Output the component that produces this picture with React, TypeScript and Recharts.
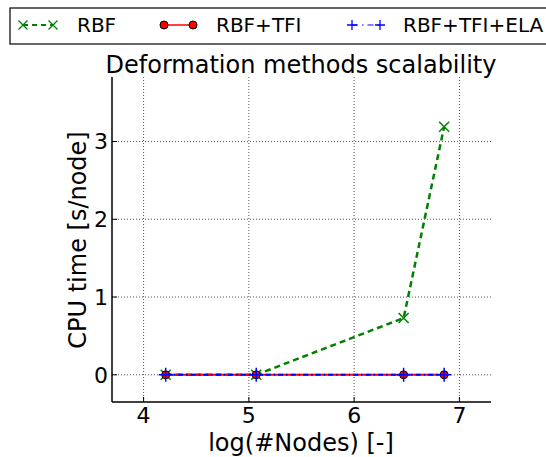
import React from 'react'
import { LineChart, Line, XAxis, YAxis, CartesianGrid } from 'recharts'

const logNodes = [4.21, 5.07, 6.47, 6.855]
const rbfTime = [0, 0, 0.73, 3.19]
const rbfTfiTime = [0, 0, 0, 0]
const rbfTfiElaTime = [0, 0, 0, 0]
const xTicks = [4, 5, 6, 7]
const yTicks = [0, 1, 2, 3]
const seriesNames = ['RBF', 'RBF+TFI', 'RBF+TFI+ELA']

const GREEN = '#008000'
const RED = '#ff0000'
const BLUE = '#0000ff'
const FONT = '"DejaVu Sans", sans-serif'

const data = logNodes.map((x, i) => ({
  x,
  rbf: rbfTime[i],
  rbfTfi: rbfTfiTime[i],
  rbfTfiEla: rbfTfiElaTime[i]
}))

const crossPath = (cx: number, cy: number, s: number) =>
  `M${cx - s},${cy - s}L${cx + s},${cy + s}M${cx - s},${cy + s}L${cx + s},${cy - s}`
const plusPath = (cx: number, cy: number, s: number) =>
  `M${cx - s},${cy}L${cx + s},${cy}M${cx},${cy - s}L${cx},${cy + s}`

const XMarker = ({ cx, cy }: any) => (
  <path d={crossPath(cx, cy, 5)} stroke={GREEN} strokeWidth={1.5} fill="none" />
)
const CircleMarker = ({ cx, cy }: any) => (
  <circle cx={cx} cy={cy} r={4} fill={RED} stroke="#000" strokeWidth={1} />
)
const PlusMarker = ({ cx, cy }: any) => (
  <path d={plusPath(cx, cy, 7)} stroke={BLUE} strokeWidth={1.5} fill="none" />
)

const tickStyle = { fill: '#000', fontSize: 22, fontFamily: FONT }

function Overlay() {
  return (
    <svg
      width={546}
      height={457}
      style={{ position: 'absolute', left: 0, top: 0, pointerEvents: 'none' }}
    >
      {/* legend box, runs past the right edge like the original */}
      <rect x={10} y={8} width={560} height={36} fill="#fff" stroke="#000" strokeWidth={1.2} />
      <g fontFamily={FONT} fontSize={20} fill="#000">
        <line x1={23} y1={25} x2={53} y2={25} stroke={GREEN} strokeWidth={2} strokeDasharray="5 4" />
        <path d={crossPath(23, 25, 4.5)} stroke={GREEN} strokeWidth={1.3} fill="none" />
        <path d={crossPath(53, 25, 4.5)} stroke={GREEN} strokeWidth={1.3} fill="none" />
        <text x={77} y={32}>{seriesNames[0]}</text>

        <line x1={164} y1={25} x2={193} y2={25} stroke={RED} strokeWidth={1.5} />
        <circle cx={164} cy={25} r={4} fill={RED} stroke="#000" strokeWidth={1} />
        <circle cx={193} cy={25} r={4} fill={RED} stroke="#000" strokeWidth={1} />
        <text x={216} y={32}>{seriesNames[1]}</text>

        <line x1={352} y1={25} x2={380} y2={25} stroke={BLUE} strokeWidth={1} strokeDasharray="6 4 1.5 4" />
        <path d={plusPath(352, 25, 5)} stroke={BLUE} strokeWidth={1.3} fill="none" />
        <path d={plusPath(380, 25, 5)} stroke={BLUE} strokeWidth={1.3} fill="none" />
        <text x={403} y={32}>{seriesNames[2]}</text>
      </g>

      <text x={301} y={73} textAnchor="middle" fontFamily={FONT} fontSize={24} fill="#000">
        Deformation methods scalability
      </text>
      <text x={301} y={451} textAnchor="middle" fontFamily={FONT} fontSize={24} fill="#000">
        log(#Nodes) [-]
      </text>
      <text
        x={0}
        y={0}
        transform="translate(86,240) rotate(-90)"
        textAnchor="middle"
        fontFamily={FONT}
        fontSize={24}
        fill="#000"
      >
        CPU time [s/node]
      </text>
    </svg>
  )
}

export default function App() {
  return (
    <div
      style={{
        position: 'absolute',
        left: 0,
        top: 0,
        width: 546,
        height: 457,
        overflow: 'hidden',
        background: '#fff'
      }}
    >
      <LineChart
        width={546}
        height={457}
        data={data}
        margin={{ top: 77, right: 55, bottom: 5, left: 0 }}
      >
        <CartesianGrid
          stroke="#555"
          strokeWidth={1}
          strokeDasharray="1 2"
          horizontalValues={yTicks}
          verticalValues={xTicks}
        />
        <XAxis
          type="number"
          dataKey="x"
          domain={[3.7, 7.3]}
          ticks={xTicks}
          allowDataOverflow
          height={50}
          tickSize={-5}
          tickMargin={10}
          tick={tickStyle}
          stroke="#000"
          axisLine={{ stroke: '#000', strokeWidth: 1.5 }}
          tickLine={{ stroke: '#000' }}
        />
        <XAxis
          xAxisId="top"
          orientation="top"
          type="number"
          dataKey="x"
          domain={[3.7, 7.3]}
          ticks={xTicks}
          allowDataOverflow
          height={0}
          tickSize={-5}
          tickFormatter={() => ''}
          axisLine={{ stroke: '#000', strokeWidth: 1.5 }}
          tickLine={{ stroke: '#000' }}
        />
        <YAxis
          type="number"
          domain={[-0.35, 3.83]}
          ticks={yTicks}
          allowDataOverflow
          width={112}
          tickSize={-5}
          tickMargin={9}
          tick={tickStyle}
          axisLine={{ stroke: '#000', strokeWidth: 1.5 }}
          tickLine={{ stroke: '#000' }}
        />
        <YAxis
          yAxisId="right"
          orientation="right"
          type="number"
          domain={[-0.35, 3.83]}
          ticks={yTicks}
          allowDataOverflow
          width={0}
          tickSize={-5}
          tickFormatter={() => ''}
          axisLine={{ stroke: '#000', strokeWidth: 1.5 }}
          tickLine={{ stroke: '#000' }}
        />
        <Line
          dataKey="rbf"
          name={seriesNames[0]}
          stroke={GREEN}
          strokeWidth={2.5}
          strokeDasharray="6 4"
          dot={(p: any) => <XMarker key={`rbf-${p.index}`} {...p} />}
          isAnimationActive={false}
        />
        <Line
          dataKey="rbfTfi"
          name={seriesNames[1]}
          stroke={RED}
          strokeWidth={2}
          dot={(p: any) => <CircleMarker key={`tfi-${p.index}`} {...p} />}
          isAnimationActive={false}
        />
        <Line
          dataKey="rbfTfiEla"
          name={seriesNames[2]}
          stroke={BLUE}
          strokeWidth={2}
          strokeDasharray="5 3 1.5 3"
          dot={(p: any) => <PlusMarker key={`ela-${p.index}`} {...p} />}
          isAnimationActive={false}
        />
      </LineChart>
      <Overlay />
    </div>
  )
}
